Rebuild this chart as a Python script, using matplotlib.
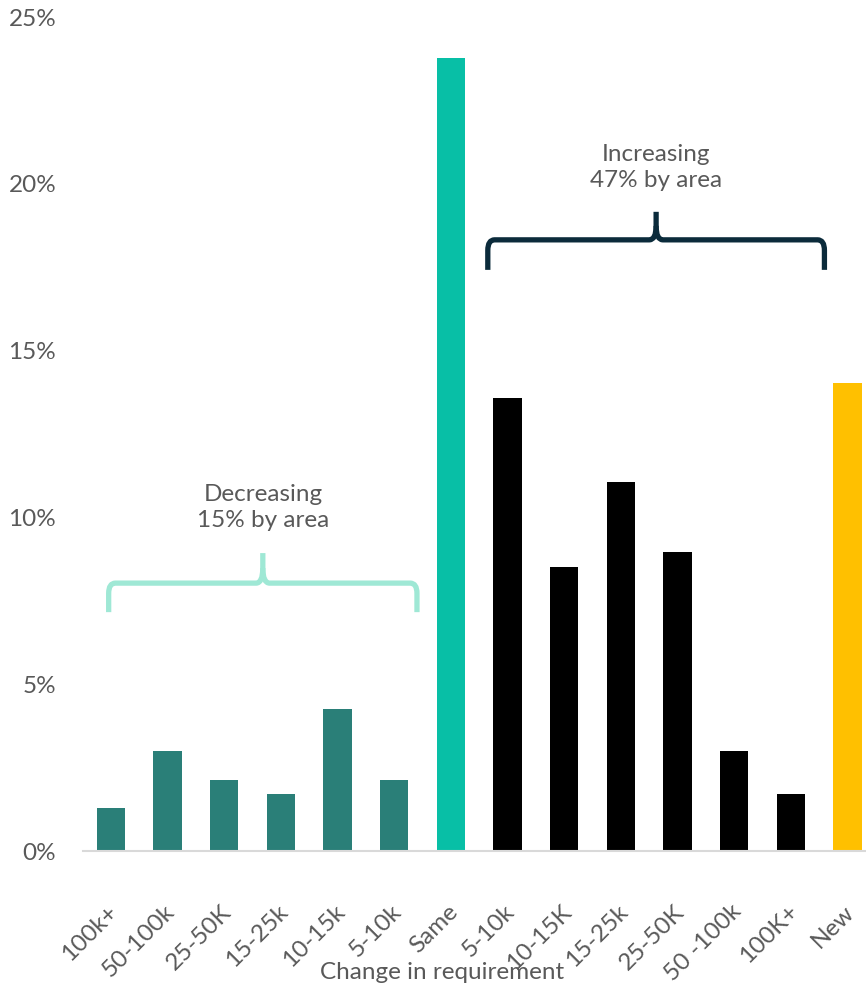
import numpy as np
import matplotlib.pyplot as plt
import matplotlib.transforms as mtransforms
from matplotlib.path import Path
from matplotlib.patches import PathPatch

# data
categories = ['100k+', '50-100k', '25-50K', '15-25k', '10-15k', '5-10k', 'Same',
              '5-10k', '10-15K', '15-25k', '25-50K', '50 -100k', '100K+', 'New']
shares = [1.3, 3.0, 2.13, 1.71, 4.26, 2.13, 23.77,
          13.58, 8.51, 11.06, 8.96, 3.0, 1.71, 14.03]
groups = ['dec'] * 6 + ['same'] + ['inc'] * 6 + ['new']

group_colors = {'dec': '#2A7F78', 'same': '#08BFA6', 'inc': '#000000', 'new': '#FFC000'}
TEXT = '#595959'
FS = 17.5

plt.rcParams['font.family'] = ['Lato', 'DejaVu Sans']

fig = plt.figure(figsize=(8.66, 9.88), dpi=100)
ax = fig.add_axes([82.6 / 866, (988 - 851) / 988, (876 - 82.6) / 866, (851 - 17) / 988])

x = np.arange(len(categories))
ax.bar(x, shares, width=0.5, color=[group_colors[g] for g in groups], zorder=2)

ax.set_xlim(-0.5, len(categories) - 0.5)
ax.set_ylim(0, 25)
ax.set_yticks([0, 5, 10, 15, 20, 25])
ax.set_yticklabels([f'{v}%' for v in [0, 5, 10, 15, 20, 25]])
ax.set_xticks(x)
ax.set_xticklabels(categories, rotation=45, ha='right', va='top', rotation_mode='anchor')
ax.tick_params(axis='both', length=0, labelsize=FS, colors=TEXT)
ax.tick_params(axis='y', pad=19)
ax.tick_params(axis='x', pad=36)

# nudge the rotated labels a little to the left
shift = mtransforms.ScaledTranslation(-4 / 100, 0, fig.dpi_scale_trans)
for lbl in ax.get_xticklabels():
    lbl.set_transform(lbl.get_transform() + shift)

for s in ['top', 'right', 'left']:
    ax.spines[s].set_visible(False)
ax.spines['bottom'].set_color('#D9D9D9')
ax.spines['bottom'].set_linewidth(1.5)

fig.text(442 / 866, 1 - 979 / 988, 'Change in requirement', fontsize=FS,
         color=TEXT, ha='center', va='baseline')


def brace(x0, x1, y, drop, rise, color):
    xm = (x0 + x1) / 2
    r = 0.12
    rv = drop * 0.35
    verts = [(x0, y - drop), (x0, y - rv), (x0, y), (x0 + r, y),
             (xm - r, y), (xm, y), (xm, y + rise * 0.5), (xm, y + rise)]
    codes = [Path.MOVETO, Path.LINETO, Path.CURVE3, Path.CURVE3,
             Path.LINETO, Path.CURVE3, Path.CURVE3, Path.LINETO]
    ax.add_patch(PathPatch(Path(verts, codes), fill=False, ec=color, lw=3.8,
                           capstyle='butt', joinstyle='round', zorder=3))
    verts = [(x1, y - drop), (x1, y - rv), (x1, y), (x1 - r, y),
             (xm + r, y), (xm, y), (xm, y + rise * 0.5)]
    codes = [Path.MOVETO, Path.LINETO, Path.CURVE3, Path.CURVE3,
             Path.LINETO, Path.CURVE3, Path.CURVE3]
    ax.add_patch(PathPatch(Path(verts, codes), fill=False, ec=color, lw=3.8,
                           capstyle='butt', joinstyle='round', zorder=3))


brace(-0.04, 5.40, 8.03, 0.87, 0.90, '#9FE8D5')
brace(6.65, 12.59, 18.32, 0.90, 0.84, '#0B2B3B')

ax.text(2.68, 10.31, 'Decreasing\n15% by area', ha='center', va='center',
        fontsize=FS, color=TEXT, linespacing=1.3)
ax.text(9.62, 20.49, 'Increasing\n47% by area', ha='center', va='center',
        fontsize=FS, color=TEXT, linespacing=1.3)

fig.savefig('out.png', dpi=100)
